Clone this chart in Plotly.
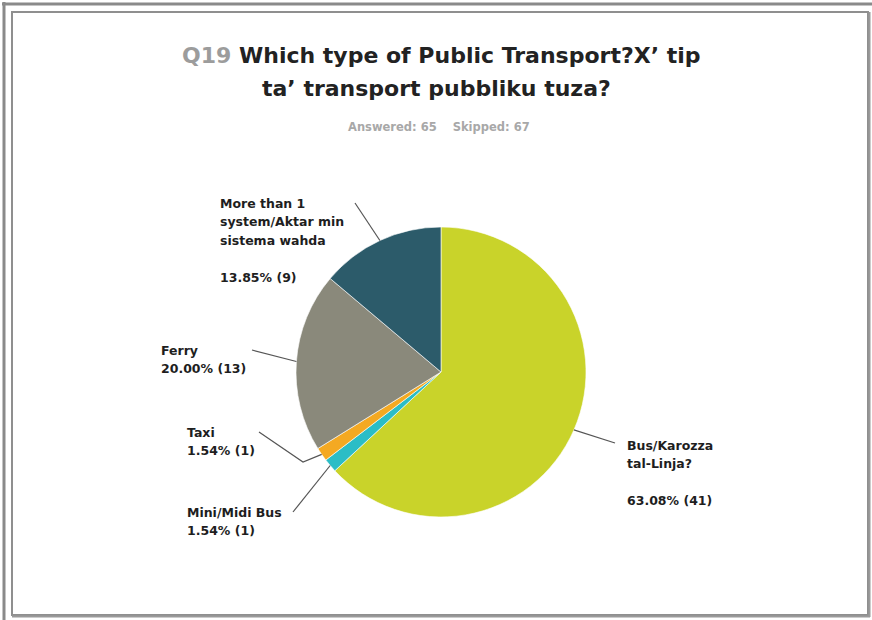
import math
import plotly.graph_objects as go

# Survey answers for Q19
categories = [
    "Bus/Karozza tal-Linja?",
    "Mini/Midi Bus",
    "Taxi",
    "Ferry",
    "More than 1 system/Aktar min sistema wahda",
]
counts = [41, 1, 1, 13, 9]
label_lines = [
    ["Bus/Karozza", "tal-Linja?"],
    ["Mini/Midi Bus"],
    ["Taxi"],
    ["Ferry"],
    ["More than 1", "system/Aktar min", "sistema wahda"],
]
answered = 65
skipped = 67
question_no = "Q19"
title_lines = ["Which type of Public Transport?X’ tip", "ta’ transport pubbliku tuza?"]

colors = ["#c9d32a", "#2bbdc6", "#f4a922", "#8a897b", "#2c5b6a"]

W, H = 872, 620
CX, CY, R = 441, 372, 145
FONT = "DejaVu Sans"
LINE = 18.5

# label block placement: text left x, first line centre y, leader end point,
# optional elbow point, and whether a blank line precedes the percentage
placement = [
    dict(x=625, y=445, end=(615, 443), elbow=None, gap=True),
    dict(x=185, y=512, end=(293, 512), elbow=None, gap=False),
    dict(x=185, y=432, end=(259, 432), elbow=(303, 462), gap=False),
    dict(x=159, y=350, end=(252, 350), elbow=None, gap=False),
    dict(x=218, y=203, end=(355, 203), elbow=None, gap=True),
]

total = sum(counts)

fig = go.Figure()

fig.add_trace(go.Pie(
    labels=categories,
    values=counts,
    sort=False,
    direction="clockwise",
    rotation=0,
    marker=dict(colors=colors, line=dict(color="white", width=0.6)),
    textinfo="none",
    hoverinfo="label+value+percent",
    showlegend=False,
    domain=dict(x=[(CX - R) / W, (CX + R) / W],
                y=[(H - CY - R) / H, (H - CY + R) / H]),
))

shapes = []
annotations = []

# frame
shapes.append(dict(type="line", x0=4, y0=2, x1=4, y1=H, line=dict(color="#8a8a8a", width=3)))
shapes.append(dict(type="line", x0=2, y0=4, x1=W, y1=4, line=dict(color="#8a8a8a", width=3)))
shapes.append(dict(type="rect", x0=12, y0=12, x1=868, y1=615,
                   line=dict(color="#8f8f8f", width=2)))
shapes.append(dict(type="line", x0=869.5, y0=12, x1=869.5, y1=617, line=dict(color="#9a9a9a", width=2)))
shapes.append(dict(type="line", x0=12, y0=616.5, x1=870, y1=616.5, line=dict(color="#9a9a9a", width=2)))

# leader lines and slice labels
cum = 0
for i, v in enumerate(counts):
    theta = 2 * math.pi * (cum + v / 2) / total
    cum += v
    sx = CX + R * math.sin(theta)
    sy = CY - R * math.cos(theta)
    p = placement[i]
    pts = [(sx, sy)]
    if p["elbow"]:
        pts.append(p["elbow"])
    pts.append(p["end"])
    path = "M " + " L ".join(f"{a:.1f},{b:.1f}" for a, b in pts)
    shapes.append(dict(type="path", path=path, xref="x", yref="y",
                       line=dict(color="#555555", width=1.2)))

    pct = f"{v / total * 100:.2f}% ({v})"
    lines = list(label_lines[i])
    if p["gap"]:
        lines.append("")
    lines.append(pct)
    for k, t in enumerate(lines):
        if not t:
            continue
        annotations.append(dict(
            x=p["x"], y=p["y"] + k * LINE, xref="x", yref="y",
            text=f"<b>{t}</b>", showarrow=False,
            xanchor="left", yanchor="middle",
            font=dict(family=FONT, size=12.5, color="#1e1e1e"),
        ))

# title
annotations.append(dict(
    x=441, y=55, xref="x", yref="y", showarrow=False,
    xanchor="center", yanchor="middle",
    text=f"<b><span style='color:#9c9c9c'>{question_no}</span> {title_lines[0]}</b>",
    font=dict(family=FONT, size=22, color="#222222"),
))
annotations.append(dict(
    x=436, y=88, xref="x", yref="y", showarrow=False,
    xanchor="center", yanchor="middle",
    text=f"<b>{title_lines[1]}</b>",
    font=dict(family=FONT, size=22, color="#222222"),
))
annotations.append(dict(
    x=439, y=127, xref="x", yref="y", showarrow=False,
    xanchor="center", yanchor="middle",
    text=f"<b>Answered: {answered}&nbsp;&nbsp;&nbsp;&nbsp;Skipped: {skipped}</b>",
    font=dict(family=FONT, size=11.5, color="#a8a8a8"),
))

fig.update_layout(
    width=W, height=H,
    margin=dict(l=0, r=0, t=0, b=0),
    paper_bgcolor="white",
    plot_bgcolor="rgba(0,0,0,0)",
    xaxis=dict(range=[0, W], visible=False, fixedrange=True, domain=[0, 1]),
    yaxis=dict(range=[H, 0], visible=False, fixedrange=True, domain=[0, 1]),
    shapes=shapes,
    annotations=annotations,
    showlegend=False,
)

fig.write_html("out.html", config={"displayModeBar": False})
